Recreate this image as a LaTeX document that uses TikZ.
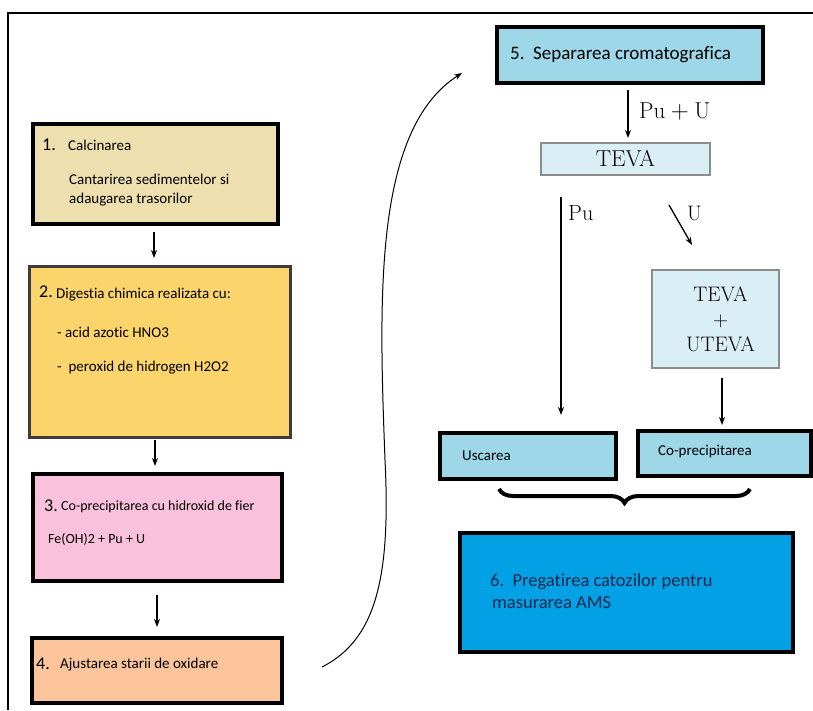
\documentclass[tikz,border=0pt]{standalone}
\usepackage{fontspec}
\newfontfamily\calib[Ligatures=NoCommon]{Carlito}
\usetikzlibrary{arrows.meta,decorations.pathreplacing}
\definecolor{tanc}{RGB}{237,223,174}
\definecolor{yelc}{RGB}{251,213,107}
\definecolor{pinkc}{RGB}{249,193,219}
\definecolor{peachc}{RGB}{251,196,155}
\definecolor{lblue}{RGB}{157,215,232}
\definecolor{pale}{RGB}{218,238,246}
\definecolor{bsix}{RGB}{2,160,228}
\definecolor{navy}{RGB}{27,42,78}
\definecolor{dgray}{RGB}{60,60,60}
\tikzset{
  box/.style={draw=black,line width=4pt,rectangle,inner sep=0pt,outer sep=0pt,anchor=north west},
  thinbox/.style={draw=gray!90,line width=1.4pt,rectangle,inner sep=0pt,outer sep=0pt,anchor=north west,fill=pale},
  txt/.style={anchor=west,inner sep=0pt,font=\calib\fontsize{15}{17}\selectfont},
  num/.style={anchor=west,inner sep=0pt,font=\calib\fontsize{18}{20}\selectfont},
  lm/.style={inner sep=0pt,font=\fontsize{23}{26}\selectfont},
  arr/.style={line width=1.3pt,-{Stealth[length=8pt,width=6pt]}}
}
\begin{document}
\begin{tikzpicture}[x=1pt,y=-1pt]
\useasboundingbox (0,0) rectangle (813,710);
% outer frame
\draw[line width=2pt] (8,710) -- (8,13) -- (813,13);

% left column boxes
\node[box,fill=tanc,minimum width=245pt,minimum height=100pt] (b1) at (33,124) {};
\node[num] (n1) at (42,145) {1.};
\node[txt] (t1) at (68,145) {Calcinarea};
\node[txt] (t1b) at (69,179) {Cantarirea sedimentelor si};
\node[txt] (t1c) at (69,200) {adaugarea trasorilor};

\node[box,draw=dgray,line width=3pt,fill=yelc,minimum width=261pt,minimum height=171pt] (b2) at (29,266) {};
\node[num] (n2) at (39,292) {2.};
\node[txt] (t2) at (56,295) {Digestia chimica realizata cu:};
\node[txt] (t2b) at (57,332) {- acid azotic HNO3};
\node[txt] (t2c) at (57,368) {-\ \ peroxid de hidrogen H2O2};

\node[box,fill=pinkc,minimum width=249pt,minimum height=107pt] (b3) at (33,474) {};
\node[num] (n3) at (44,506) {3.};
\node[txt,font=\calib\fontsize{14}{16}\selectfont] (t3) at (61,507) {Co-precipitarea cu hidroxid de fier};
\node[txt,font=\calib\fontsize{14}{16}\selectfont] (t3b) at (48,539) {Fe(OH)2 + Pu + U};

\node[box,fill=peachc,minimum width=250pt,minimum height=65pt] (b4) at (32,638) {};
\node[num] (n4) at (36,664) {4.};
\node[txt] (t4) at (60,665) {Ajustarea starii de oxidare};

\coordinate (xa) at (154,0);
\coordinate (xb) at (155,0);
\coordinate (xc) at (157,0);
\draw[arr,shorten <=8pt,shorten >=8pt] (b1.south -| xa) -- (b2.north -| xa);
\draw[arr,shorten <=3pt,shorten >=8pt] (b2.south -| xb) -- (b3.north -| xb);
\draw[arr,shorten <=14pt,shorten >=11pt] (b3.south -| xc) -- (b4.north -| xc);

% curved connector
\coordinate (cs) at (322,667);
\coordinate (ce) at (462,73);
\draw[arr,line width=1pt] (cs) .. controls (375,640) and (391,580) .. (385,460)
   .. controls (379,300) and (373,130) .. (ce);

% right side
\node[box,fill=lblue,minimum width=266pt,minimum height=56pt] (b5) at (497,27) {};
\node[txt,font=\calib\fontsize{19}{21}\selectfont] (t5) at (510,55) {5.\ \ Separarea cromatografica};

\node[thinbox,minimum width=169pt,minimum height=32pt] (teva) at (541,143) {};
\node[lm] (tevat) at (teva.center) {TEVA};
\coordinate (x5) at (628,0);
\draw[arr,shorten <=7pt,shorten >=5pt] (b5.south -| x5) -- (teva.north -| x5);
\node[lm,anchor=west] (lpuu) at (639,111) {$\mathrm{Pu}+\mathrm{U}$};

\node[thinbox,minimum width=127pt,minimum height=98pt] (tu) at (652,270) {};
\node[lm,align=center,font=\fontsize{21}{25}\selectfont] (tut) at ([xshift=5pt]tu.center) {TEVA\\$+$\\UTEVA};

\node[box,fill=lblue,minimum width=176pt,minimum height=46pt] (usc) at (440,433) {};
\node[txt] (usct) at (462,456) {Uscarea};
\node[box,fill=lblue,minimum width=173pt,minimum height=45pt] (cop) at (638,431) {};
\node[txt] (copt) at (658,452) {Co-precipitarea};

\coordinate (pus) at (561,197);
\draw[arr,shorten >=18pt] (pus) -- (pus |- usc.north);
\node[lm,anchor=west,font=\fontsize{22}{24}\selectfont] (lpu) at (568,213) {Pu};

\coordinate (us) at (669,205);
\coordinate (ue) at (692,245);
\draw[arr] (us) -- (ue);
\node[lm,anchor=west,font=\fontsize{21}{24}\selectfont] (lu) at (687,213) {U};

\coordinate (x6) at (722,0);
\draw[arr,shorten <=10pt,shorten >=6pt] (tu.south -| x6) -- (cop.north -| x6);

% brace
\draw[decorate,decoration={brace,amplitude=14pt,mirror},line width=4pt] (499,489) -- (750,489);

\node[box,fill=bsix,minimum width=333pt,minimum height=119pt] (b6) at (460,533) {};
\node[txt,text=navy,font=\calib\fontsize{18.5}{21}\selectfont] (t6) at (490,582) {6.\ \ Pregatirea catozilor pentru};
\node[txt,text=navy,font=\calib\fontsize{18.5}{21}\selectfont] (t6b) at (492,603) {masurarea AMS};
\end{tikzpicture}
\end{document}
